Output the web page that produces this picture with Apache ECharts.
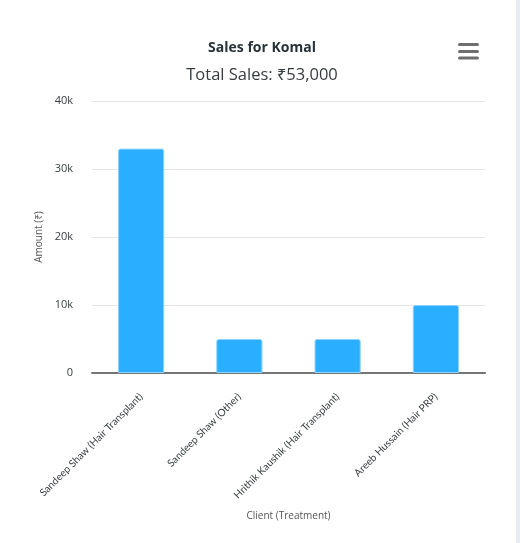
<!DOCTYPE html>
<html>
<head>
<meta charset="utf-8">
<script src="https://cdn.jsdelivr.net/npm/echarts@6/dist/echarts.min.js"></script>
<style>
  html, body { margin: 0; padding: 0; background: #fff; }
  #chart { width: 520px; height: 543px; }
</style>
</head>
<body>
<div id="chart"></div>
<script>
// chart data
const clients = [
  'Sandeep Shaw (Hair Transplant)',
  'Sandeep Shaw (Other)',
  'Hrithik Kaushik (Hair Transplant)',
  'Areeb Hussain (Hair PRP)'
]
const amounts = [33000, 5000, 5000, 10000]
const totalSales = '₹53,000'

const fontFamily = '"Open Sans", "Noto Sans", sans-serif'
const chart = echarts.init(document.getElementById('chart'))

chart.setOption({
  animation: false,
  textStyle: { fontFamily: fontFamily },
  title: {
    text: 'Sales for Komal',
    subtext: 'Total Sales: ' + totalSales,
    left: 257,
    textAlign: 'center',
    top: 36,
    itemGap: 12,
    textStyle: { fontSize: 14, fontWeight: 'bold', color: '#263238', fontFamily: fontFamily },
    subtextStyle: { fontSize: 16.5, color: '#373d3f', fontFamily: fontFamily }
  },
  grid: {
    top: 101,
    left: 92,
    right: 35,
    bottom: 170
  },
  xAxis: {
    type: 'category',
    data: clients,
    name: 'Client (Treatment)',
    nameLocation: 'middle',
    nameGap: 138,
    nameTextStyle: { color: '#555', fontSize: 10 },
    axisTick: { show: false },
    axisLine: { lineStyle: { color: '#757575', width: 2 } },
    axisLabel: {
      rotate: 45,
      interval: 0,
      margin: 22,
      color: '#373d3f',
      fontSize: 10.2,
      fontFamily: 'Lato, sans-serif'
    }
  },
  yAxis: {
    type: 'value',
    min: 0,
    max: 40000,
    interval: 10000,
    name: 'Amount (₹)',
    nameLocation: 'middle',
    nameGap: 45,
    nameTextStyle: { color: '#555', fontSize: 10 },
    axisLabel: {
      margin: 19,
      color: '#373d3f',
      fontSize: 11,
      formatter: v => v === 0 ? '0' : (v / 1000) + 'k'
    },
    splitLine: { lineStyle: { color: '#e6e6e6' } }
  },
  series: [{
    type: 'bar',
    data: amounts,
    barWidth: '47%',
    itemStyle: {
      color: '#2aaeff',
      borderColor: '#8fd2ff',
      borderWidth: 1,
      borderRadius: [2, 2, 0, 0]
    }
  }],
  graphic: [
    // menu icon
    { type: 'rect', shape: { x: 458, y: 43, width: 21, height: 3, r: 1.5 }, style: { fill: '#6e6e6e' } },
    { type: 'rect', shape: { x: 458, y: 50, width: 21, height: 3, r: 1.5 }, style: { fill: '#6e6e6e' } },
    { type: 'rect', shape: { x: 458, y: 56.5, width: 21, height: 3, r: 1.5 }, style: { fill: '#6e6e6e' } },
    // right page strip
    { type: 'rect', shape: { x: 516, y: 0, width: 4, height: 543 }, style: { fill: '#e8ecf2' } }
  ]
})
</script>
</body>
</html>
